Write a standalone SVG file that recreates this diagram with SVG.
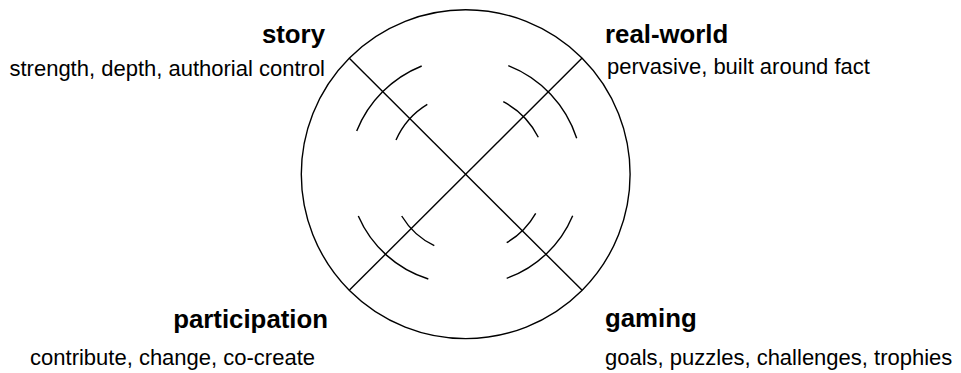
<svg xmlns="http://www.w3.org/2000/svg" width="961" height="373" viewBox="0 0 961 373">
<style>
.ln{fill:none;stroke:#000;stroke-width:1.4}
.t{font-family:"Liberation Sans",Arial,sans-serif;font-size:22px;fill:#000}
.h{font-family:"Liberation Sans",Arial,sans-serif;font-size:25.8px;font-weight:bold;fill:#000}
</style>
<rect width="961" height="373" fill="#fff"/>
<g id="circle">
<circle class="ln" cx="465.7" cy="174.2" r="164.4"/>
</g>
<g id="connectors">
<line class="ln" x1="349.3" y1="58.3" x2="581.9" y2="290.1"/>
<line class="ln" x1="581.9" y1="58.3" x2="349.5" y2="290.1"/>
<path class="ln" d="M356.7,131 A117,117 0 0,1 421.7,66"/>
<path class="ln" d="M396,140 A78.5,78.5 0 0,1 427.3,104.3"/>
<path class="ln" d="M508.3,65.7 A116.7,116.7 0 0,1 576.7,138.3"/>
<path class="ln" d="M503.3,101.7 A81.5,81.5 0 0,1 538.3,137.3"/>
<path class="ln" d="M428.3,279 A113,113 0 0,1 358.3,216"/>
<path class="ln" d="M434.3,245.7 A77.5,77.5 0 0,1 401.7,216"/>
<path class="ln" d="M572.7,215.7 A113,113 0 0,1 506.7,278.3"/>
<path class="ln" d="M535.7,213.3 A80,80 0 0,1 506.7,242.7"/>
</g>
<g id="story">
<text class="h" x="325" y="43" text-anchor="end">story</text>
<text class="t" x="325" y="76" text-anchor="end">strength, depth, authorial control</text>
</g>
<g id="real-world">
<text class="h" x="605" y="43">real-world</text>
<text class="t" x="607" y="74">pervasive, built around fact</text>
</g>
<g id="participation">
<text class="h" x="328" y="328" text-anchor="end">participation</text>
<text class="t" x="315" y="365" text-anchor="end">contribute, change, co-create</text>
</g>
<g id="gaming">
<text class="h" x="605" y="327">gaming</text>
<text class="t" x="605" y="365">goals, puzzles, challenges, trophies</text>
</g>
</svg>
